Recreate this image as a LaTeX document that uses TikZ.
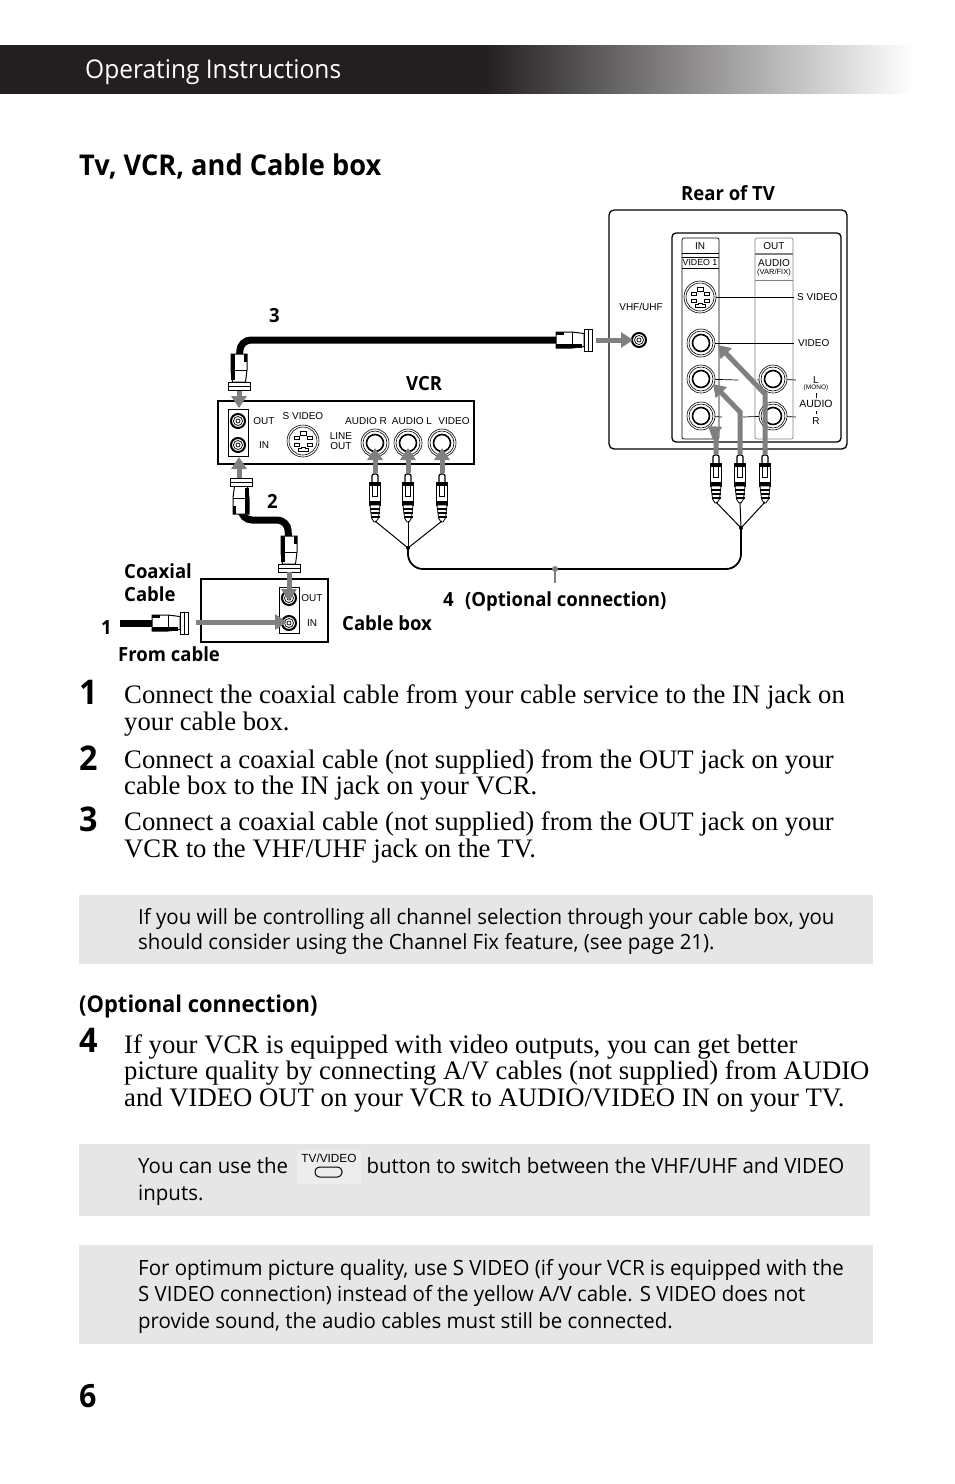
\documentclass[tikz,border=0pt]{standalone}
\usepackage{fontspec}
\usepackage{tikz}
\usetikzlibrary{arrows.meta}
\setmainfont{Liberation Serif}
\newfontfamily\headfont[FakeStretch=0.95]{Open Sans}
\newfontfamily\notefont[FakeStretch=0.974]{Open Sans}
\newfontfamily\panelfont{Liberation Sans}
\definecolor{sigcolor}{HTML}{808080}
\definecolor{notecolor}{HTML}{E6E6E6}
\definecolor{btncolor}{HTML}{EDEDED}
\definecolor{bandcolor}{HTML}{231F20}
\pgfdeclarehorizontalshading{bandshade}{100bp}{color(0bp)=(bandcolor); color(51.5bp)=(bandcolor); color(75bp)=(white); color(100bp)=(white)}

\tikzset{
  paneltext/.style={font=\panelfont\fontsize{10}{10.5}\selectfont,inner sep=0pt,align=center},
  tinytext/.style={font=\panelfont\fontsize{6.5}{7}\selectfont,inner sep=0pt,align=center},
  calltext/.style={font=\headfont\bfseries\fontsize{19.5}{23}\selectfont,inner sep=0pt,anchor=base west,align=left},
  stepnum/.style={font=\headfont\bfseries\fontsize{34}{34}\selectfont,inner sep=0pt,anchor=base west},
  steptext/.style={font=\fontsize{26.7}{26.6}\selectfont,inner sep=0pt,anchor=north west,align=left},
  notetext/.style={font=\notefont\fontsize{21}{26.6}\selectfont,inner sep=0pt,anchor=north west,align=left},
  sigarrow/.style={draw=sigcolor,line width=5pt,-{Triangle[length=12pt,width=15pt]}},
  coaxline/.style={draw=black,line width=7pt,rounded corners=11pt},
  avline/.style={draw=black,line width=1.8pt,rounded corners=15pt},
  rcajack/.pic={
    \draw[fill=white,line width=.6pt] (0,0) circle (14);
    \draw[line width=.6pt] (0,0) circle (12);
    \draw[line width=1.6pt] (0,0) circle (8.5);
  },
  coaxjack/.pic={
    \draw[fill=white,line width=2pt] (0,0) circle (7);
    \draw[line width=.7pt] (0,0) circle (4.5);
    \draw[line width=.7pt] (0,0) circle (2);
  },
  svideojack/.pic={
    \draw[fill=white,line width=.6pt] (0,0) circle (16);
    \draw[line width=.6pt] (0,0) circle (14);
    \draw[line width=.7pt] (-3,-10) rectangle (3,-6);
    \draw[line width=.7pt] (-9,-5) rectangle (-4,-2);
    \draw[line width=.7pt] (4,-5) rectangle (9,-2);
    \draw[line width=.7pt] (-9,2) rectangle (-4,5);
    \draw[line width=.7pt] (4,2) rectangle (9,5);
    \draw[line width=.7pt] (-5,7) -- (-2,7) -- (-2,6) -- (2,6) -- (2,7) -- (5,7) -- (5,10) -- (-5,10) -- cycle;
  },
  coaxplug/.pic={
    \draw[fill=white,line width=1pt] (-8,20) -- (-6.5,8) -- (6.5,8) -- (8,20) -- (8,36) -- (-8,36) -- cycle;
    \draw[fill=white,line width=1pt] (-11,0) rectangle (11,8);
    \draw[line width=.8pt] (-11,4) -- (11,4);
    \draw[line width=.8pt] (-8,20) -- (8,20);
    \fill (4,10) rectangle (8,36);
    \fill (-8,28) rectangle (-5,36);
  },
  rcaplug/.pic={
    \draw[fill=white,line width=1.2pt,rounded corners=2pt] (-3,9) -- (-3,0) -- (3,0) -- (3,9);
    \draw[fill=white,line width=1.1pt] (-5.5,9) rectangle (5.5,31);
    \fill (-5.5,9) rectangle (5.5,12);
    \fill (-5.5,27) rectangle (5.5,31);
    \draw[line width=1pt] (-2.5,12) -- (-2.5,22) -- (2.5,22) -- (2.5,12);
    \draw[fill=white,line width=.8pt] (-5,31) -- (5,31) -- (3.5,44) -- (1,48) -- (-1,48) -- (-3.5,44) -- cycle;
    \foreach \ypos in {34,38,42} {\fill (-4.5,\ypos) rectangle (4.5,\ypos+1.6);}
  },
}

\begin{document}
\begin{tikzpicture}[x=1pt,y=-1pt]
  \useasboundingbox (0,0) rectangle (954,1484);

  \shade[shading=bandshade] (0,45) rectangle (913,93.6);
  \node[white,font=\headfont\fontsize{25.8}{25.8}\selectfont,inner sep=0pt,anchor=base west] (header) at (85,78.6) {Operating Instructions};
  \node[font=\headfont\bfseries\fontsize{28.6}{29}\selectfont,inner sep=0pt,anchor=base west] (title) at (79,175) {Tv, VCR, and Cable box};

  % rear of the TV
  \draw[line width=1.3pt,rounded corners=5pt] (609,210) rectangle (847,449);
  \draw[line width=1.3pt,rounded corners=4pt] (672,233) rectangle (841,442);
  \draw[line width=.7pt,rounded corners=2pt] (682,238) rectangle (719,439);
  \draw[draw=gray,line width=.7pt,rounded corners=2pt] (755,238) rectangle (793,439);
  \draw[line width=.7pt] (682,253) -- (719,253) (682,257) -- (719,257) (682,268) -- (719,268);
  \draw[draw=gray,line width=1.2pt] (755,254) -- (793,254);
  \draw[draw=gray,line width=.7pt] (755,280) -- (793,280);
  \node[calltext] (reartv) at (681,200) {Rear of TV};
  \node[paneltext] (inlabel) at (700,246.5) {IN};
  \node[paneltext,font=\panelfont\fontsize{8.8}{9.5}\selectfont] (video1) at (700,262) {VIDEO 1};
  \node[paneltext] (outlabel) at (774,246.5) {OUT};
  \node[paneltext] (audiolabel) at (774,263.5) {AUDIO};
  \node[tinytext,font=\panelfont\fontsize{7.5}{8}\selectfont] (varfix) at (774,273) {(VAR/FIX)};
  \node[paneltext] (vhflabel) at (641,307) {VHF/UHF};
  \node[paneltext,anchor=west] (svideotv) at (797,297) {S VIDEO};
  \node[paneltext,anchor=west] (videotv) at (798,343) {VIDEO};
  \node[paneltext] (ltv) at (816,380) {L};
  \node[tinytext] (monotv) at (816,388) {(MONO)};
  \node[paneltext,font=\panelfont\fontsize{10.5}{11}\selectfont] (audiotv) at (816,404) {AUDIO};
  \node[paneltext] (rtv) at (816,421) {R};
  \coordinate (ltick) at (816,393);
  \coordinate (rtick) at (816,411);
  \draw[line width=.6pt] (ltick) -- ++(0,5) (rtick) -- ++(0,3);
  \coordinate (svjack) at (700,297);
  \coordinate (vjack) at (701,343);
  \coordinate (ljack) at (701,379);
  \coordinate (rjack) at (701,416);
  \coordinate (lout) at (773,379);
  \coordinate (rout) at (773,416);
  \draw[line width=.7pt] (svjack) -- (794,297);
  \draw[line width=.7pt] (vjack) -- (794,343);
  \draw[line width=.7pt] (ljack) -- (738,380) (757,380) -- (lout) -- (796,380);
  \draw[line width=.7pt] (rjack) -- (722,417) (743,417) -- (rout) -- (796,417);
  \pic at (svjack) {svideojack};
  \pic at (vjack) {rcajack};
  \pic at (ljack) {rcajack};
  \pic at (rjack) {rcajack};
  \pic at (lout) {rcajack};
  \pic at (rout) {rcajack};
  \pic at (639,340) {coaxjack};
  \coordinate (vhfjack) at (633,340);

  % plugs of the A/V cable at the TV
  \coordinate (tvjoin) at (741,528);
  \coordinate (vcrjoin) at (408,548);
  \foreach \xpos/\bendy/\endx/\endy/\n in {716/432/708/426/a,740/412/713/384/b,765/394/718/345/c} {
    \pic at (\xpos,455) {rcaplug};
    \coordinate (tvtail\n) at (\xpos,502);
    \coordinate (tvtop\n) at (\xpos,454);
    \draw[sigarrow] (tvtop\n) -- (\xpos,\bendy) -- (\endx,\endy);
    \draw[line width=1pt] (tvtail\n) -- (tvjoin);
  }
  \draw[avline] (tvjoin) -- (741,569) -- (408,569) -- (vcrjoin);
  \fill (tvjoin) circle (2);
  \coordinate (avtick) at (555,569);
  \coordinate (avtickend) at (555,583);
  \draw[draw=sigcolor,line width=2pt] (avtick) -- (avtickend);
  \fill[sigcolor] (avtick) circle (3);

  % VCR
  \draw[line width=1.5pt,fill=white] (218,401) rectangle (474,464);
  \draw[line width=1pt] (228,409) rectangle (248,456);
  \node[calltext] (vcrlabel) at (406,390) {VCR};
  \pic at (238,421) {coaxjack};
  \pic at (238,445) {coaxjack};
  \node[paneltext] (vcrout) at (264,421) {OUT};
  \node[paneltext] (vcrin) at (264,445) {IN};
  \node[paneltext] (vcrsv) at (303,416) {S VIDEO};
  \pic at (303,441) {svideojack};
  \node[paneltext] (lineout) at (341,441) {LINE\\OUT};
  \node[paneltext] (audior) at (366,421) {AUDIO R};
  \node[paneltext] (audiol) at (412,421) {AUDIO L};
  \node[paneltext] (vcrvideo) at (454,421) {VIDEO};
  \foreach \xpos/\n in {375/a,408/b,442/c} {
    \pic at (\xpos,443) {rcajack};
    \pic at (\xpos,474) {rcaplug};
    \coordinate (vcrjack\n) at (\xpos,448);
    \coordinate (vcrtop\n) at (\xpos,473);
    \coordinate (vcrtail\n) at (\xpos,521);
    \draw[sigarrow] (vcrtop\n) -- (vcrjack\n);
    \draw[line width=1pt] (vcrtail\n) -- (vcrjoin);
  }
  \fill (vcrjoin) circle (2);

  % coaxial cables
  \coordinate (plugtv) at (592,340);
  \coordinate (plugvcrtop) at (239,390);
  \coordinate (plugvcrlow) at (241,478);
  \coordinate (plugbox) at (289,572);
  \coordinate (plugin) at (188,623);
  \coordinate (cablefree) at (120,623);
  \draw[coaxline] (558,340) -- (240,340) -- (plugvcrtop);
  \draw[coaxline] (plugvcrlow) -- (241,520) -- (288,520) -- (plugbox);
  \draw[coaxline,rounded corners=0pt] (cablefree) -- (plugin);
  \pic[rotate=-90] at (plugtv) {coaxplug};
  \pic[rotate=180] at (plugvcrtop) {coaxplug};
  \pic at (plugvcrlow) {coaxplug};
  \pic[rotate=180] at (plugbox) {coaxplug};
  \pic[rotate=-90] at (plugin) {coaxplug};
  \draw[sigarrow] (596,340) -- (vhfjack);
  \coordinate (vcroutjack) at (239,408);
  \coordinate (vcrinjack) at (239,457);
  \draw[sigarrow] (239,391) -- (vcroutjack);
  \draw[sigarrow] (239,478) -- (vcrinjack);

  % cable box
  \draw[line width=1.3pt] (201,579) rectangle (328,642);
  \draw[line width=1pt] (279,587) rectangle (299,633);
  \pic at (289,598) {coaxjack};
  \pic at (289,623) {coaxjack};
  \node[paneltext] (boxout) at (312,598) {OUT};
  \node[paneltext] (boxin) at (312,623) {IN};
  \coordinate (boxoutjack) at (289,601);
  \coordinate (boxinjack) at (287,622);
  \draw[sigarrow] (plugbox) -- (boxoutjack);
  \draw[sigarrow] (196,622) -- (boxinjack);

  \node[calltext] (num3) at (269,322) {3};
  \node[calltext] (num2) at (267,508) {2};
  \node[calltext] (num1) at (101,634) {1};
  \node[calltext,anchor=north west] (coaxial) at (124,563) {Coaxial\\Cable};
  \node[calltext] (fromcable) at (118,661) {From cable};
  \node[calltext] (cablebox) at (342,630) {Cable box};
  \node[calltext] (num4) at (443,606) {4};
  \node[calltext] (optional) at (465,606) {(Optional connection)};

  % steps
  \node[stepnum] (one) at (79,704) {1};
  \node[steptext] (stepone) at (124,684) {Connect the coaxial cable from your cable service to the IN jack on\\[1pt]your cable box.};
  \node[stepnum] (two) at (79,770) {2};
  \node[steptext] (steptwo) at (124,749) {Connect a coaxial cable (not supplied) from the OUT jack on your\\cable box to the IN jack on your VCR.};
  \node[stepnum] (three) at (79,831) {3};
  \node[steptext] (stepthree) at (124,811) {Connect a coaxial cable (not supplied) from the OUT jack on your\\[1pt]VCR to the VHF/UHF jack on the TV.};

  \fill[notecolor] (79,895) rectangle (873,964);
  \node[notetext] (noteone) at (138,908) {If you will be controlling all channel selection through your cable box, you\\[-1.5pt]should consider using the Channel Fix feature, (see page 21).};

  \node[calltext,font=\headfont\bfseries\fontsize{23.1}{24}\selectfont] (opthead) at (79,1012) {(Optional connection)};
  \node[stepnum] (four) at (79,1052) {4};
  \node[steptext] (stepfour) at (124,1034) {If your VCR is equipped with video outputs, you can get better\\picture quality by connecting A/V cables (not supplied) from AUDIO\\and VIDEO OUT on your VCR to AUDIO/VIDEO IN on your TV.};

  \fill[notecolor] (79,1144) rectangle (870,1216);
  \fill[btncolor] (297,1150) rectangle (361,1184);
  \node[notetext] (notetwo) at (138,1157) {You can use the \hspace{73pt}button to switch between the VHF/UHF and VIDEO\\[1pt]inputs.};
  \node[paneltext,font=\panelfont\fontsize{11.8}{12}\selectfont] (tvvideo) at (329,1158) {TV/VIDEO};
  \draw[line width=1pt,rounded corners=4.5pt] (315,1167) rectangle (342,1177);

  \fill[notecolor] (79,1245) rectangle (873,1344);
  \node[notetext] (notethree) at (138,1259) {For optimum picture quality, use S VIDEO (if your VCR is equipped with the\\S VIDEO connection) instead of the yellow A/V cable. S VIDEO does not\\provide sound, the audio cables must still be connected.};

  \node[stepnum,font=\headfont\bfseries\fontsize{32}{32}\selectfont] (pagenum) at (79,1407) {6};
\end{tikzpicture}
\end{document}
